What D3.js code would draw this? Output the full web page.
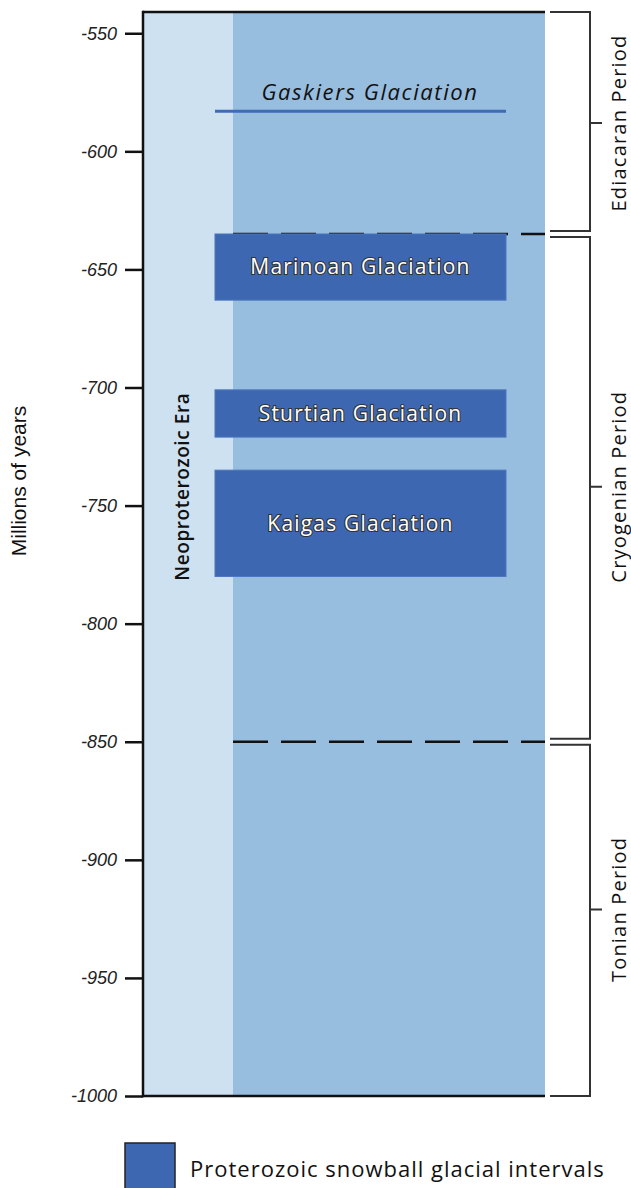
<!DOCTYPE html>
<html><head><meta charset="utf-8">
<script src="https://cdn.jsdelivr.net/npm/d3@7"></script>
<style>
body{margin:0;background:#fff;}
svg{display:block;}
</style></head>
<body>
<svg id="c" width="631" height="1188"></svg>
<script>
// ---- data ----
const tickValues = [-550,-600,-650,-700,-750,-800,-850,-900,-950,-1000];
const glaciationNames = ["Marinoan Glaciation","Sturtian Glaciation","Kaigas Glaciation"];
const glaciationStart = [-635,-701,-735];
const glaciationEnd   = [-663,-721,-780];
const gaskiersName = "Gaskiers Glaciation";
const gaskiersAge = -583;
const periodNames = ["Ediacaran Period","Cryogenian Period","Tonian Period"];
const periodStart = [-541,-635,-850];
const periodEnd   = [-635,-850,-1000];
const periodLabelAge = [-588,-742,-921];
const boundaryAges = [-635,-850];
const eraName = "Neoproterozoic Era";
const axisTitle = "Millions of years";
const legendLabel = "Proterozoic snowball glacial intervals";

// ---- layout ----
const svg = d3.select("#c");
const plotL = 143, plotR = 545, plotT = 12, plotB = 1096;
const eraSplit = 233;
const y = d3.scaleLinear().domain([-541,-1000]).range([plotT, plotB]);
const comic = "'Open Sans','DejaVu Sans',sans-serif";

// backgrounds
svg.append("rect").attr("x",plotL).attr("y",plotT).attr("width",eraSplit-plotL).attr("height",plotB-plotT).attr("fill","#cde1f0");
svg.append("rect").attr("x",eraSplit).attr("y",plotT).attr("width",plotR-eraSplit).attr("height",plotB-plotT).attr("fill","#97bddf");

// boundary dashed lines
svg.selectAll("line.bnd").data(boundaryAges).enter().append("line")
  .attr("x1",eraSplit).attr("x2",plotR).attr("y1",d=>y(d)).attr("y2",d=>y(d))
  .attr("stroke","#111").attr("stroke-width",2.5).attr("stroke-dasharray","35,13");

// glaciation boxes
const gx0 = 215, gx1 = 506;
const g = svg.append("g");
glaciationNames.forEach((n,i)=>{
  const y0 = y(glaciationStart[i]), y1 = y(glaciationEnd[i]);
  g.append("rect").attr("x",gx0).attr("y",y0).attr("width",gx1-gx0).attr("height",y1-y0)
    .attr("fill","#3d68b1").attr("stroke","#4a76be").attr("stroke-width",1);
  g.append("text").attr("x",(gx0+gx1)/2).attr("y",(y0+y1)/2).attr("dy","0.35em")
    .attr("text-anchor","middle").attr("font-family",comic).attr("font-size",21)
    .attr("fill","#fff").attr("stroke","#333").attr("stroke-width",2.2).attr("paint-order","stroke")
    .attr("letter-spacing",1.2).text(n);
});

// Gaskiers line
svg.append("line").attr("x1",gx0).attr("x2",gx1).attr("y1",y(gaskiersAge)).attr("y2",y(gaskiersAge))
  .attr("stroke","#3e6bb6").attr("stroke-width",3);
svg.append("text").attr("x",370).attr("y",y(gaskiersAge)-11).attr("text-anchor","middle")
  .attr("font-family",comic).attr("font-style","italic").attr("font-size",22).attr("fill","#111")
  .attr("letter-spacing",1.6).text(gaskiersName);

// era label
svg.append("text").attr("transform",`translate(189,${y(-742)}) rotate(-90)`).attr("text-anchor","middle")
  .attr("font-family",comic).attr("font-weight","600").attr("font-size",19).attr("fill","#111")
  .attr("letter-spacing",0.6).text(eraName);

// frame: top, bottom
svg.append("line").attr("x1",plotL).attr("x2",plotR).attr("y1",plotT).attr("y2",plotT).attr("stroke","#111").attr("stroke-width",2.5);
svg.append("line").attr("x1",plotL).attr("x2",plotR).attr("y1",plotB).attr("y2",plotB).attr("stroke","#111").attr("stroke-width",2.5);

const axis = d3.axisLeft(y).tickValues(tickValues).tickSize(18).tickPadding(8).tickFormat(d => String(d));
const ax = svg.append("g").attr("transform",`translate(${plotL},0)`).call(axis);
ax.select(".domain").attr("stroke","#111").attr("stroke-width",2.5).attr("d",`M0,${plotT-1.25}V${plotB+1.25}`);
ax.selectAll(".tick line").attr("stroke","#111").attr("stroke-width",2.5);
ax.selectAll(".tick text").attr("font-family","'Liberation Sans',Arial,sans-serif").attr("font-style","italic")
  .attr("font-size",18).attr("fill","#222");

// axis title
svg.append("text").attr("transform",`translate(26,481) rotate(-90)`).attr("text-anchor","middle")
  .attr("font-family","'Liberation Sans',Arial,sans-serif").attr("font-size",21).attr("fill","#111").text(axisTitle);

// period brackets
const bx0 = 550, bx1 = 590, bt = 602;
periodNames.forEach((n,i)=>{
  let t = y(periodStart[i]), b = y(periodEnd[i]);
  if (i>0) t += 3;
  if (i<periodNames.length-1) b -= 3;
  const mid = y(periodLabelAge[i]);
  svg.append("path").attr("d",`M${bx0},${t}H${bx1}V${b}H${bx0}M${bx1},${mid}H${bt}`)
    .attr("fill","none").attr("stroke","#333").attr("stroke-width",2);
  svg.append("text").attr("transform",`translate(626,${mid}) rotate(-90)`).attr("text-anchor","middle")
    .attr("font-family",comic).attr("font-size",20).attr("fill","#111").attr("letter-spacing",1.2).text(n);
});

// legend
svg.append("rect").attr("x",125).attr("y",1143).attr("width",50).attr("height",50)
  .attr("fill","#3d68b1").attr("stroke","#222").attr("stroke-width",1.5);
svg.append("text").attr("x",190).attr("y",1177).attr("font-family",comic).attr("font-size",22)
  .attr("fill","#111").attr("letter-spacing",1).text(legendLabel);
</script>
</body></html>
